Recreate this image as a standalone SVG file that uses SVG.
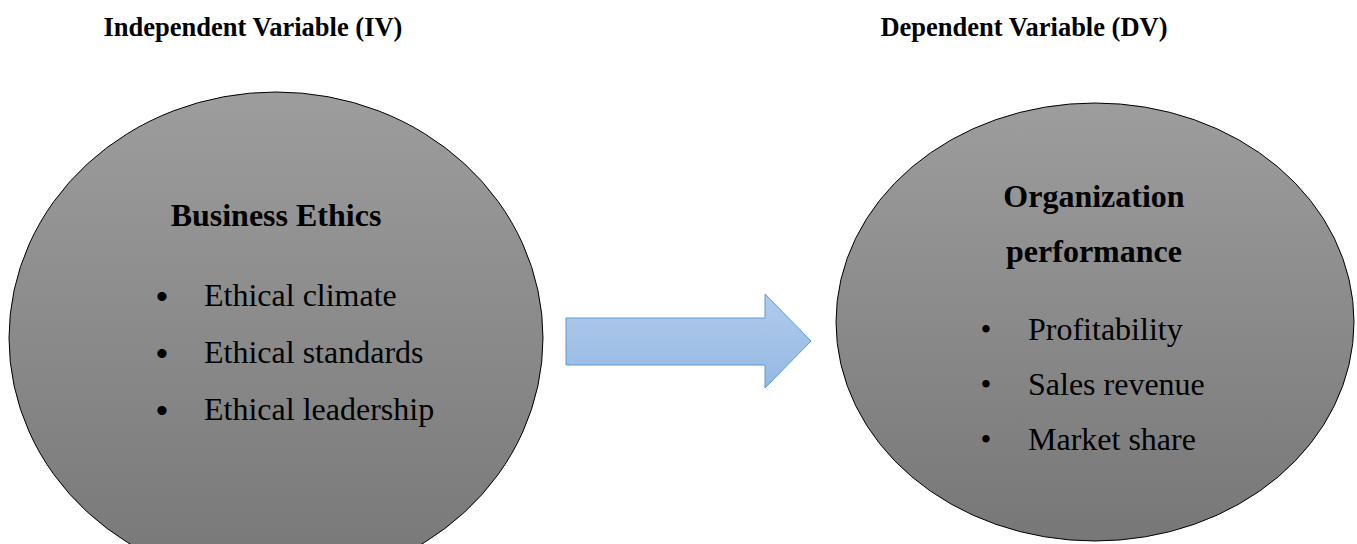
<svg xmlns="http://www.w3.org/2000/svg" width="1357" height="544" viewBox="0 0 1357 544">
  <defs>
    <linearGradient id="grayFill" x1="0" y1="0" x2="0" y2="1">
      <stop offset="0" stop-color="#9d9d9d"/>
      <stop offset="1" stop-color="#777777"/>
    </linearGradient>
    <linearGradient id="blueFill" x1="0" y1="0" x2="0" y2="1">
      <stop offset="0" stop-color="#b2cbeb"/>
      <stop offset="1" stop-color="#94b8e3"/>
    </linearGradient>
  </defs>
  <style>
    .oval { fill: url(#grayFill); stroke: #000; stroke-width: 1; }
    .hdr { font-family: "Liberation Serif", "Times New Roman", serif; font-weight: bold; font-size: 26.5px; fill: #000; }
    .title { font-family: "Liberation Serif", "Times New Roman", serif; font-weight: bold; font-size: 32px; fill: #000; text-anchor: middle; }
    .item { font-family: "Liberation Serif", "Times New Roman", serif; font-size: 32px; fill: #000; }
    .bulletL { font-family: "Liberation Sans", Arial, sans-serif; font-size: 34px; fill: #000; text-anchor: middle; }
    .bulletR { font-family: "Liberation Serif", "Times New Roman", serif; font-size: 31px; fill: #000; text-anchor: middle; }
    .arrow { fill: url(#blueFill); stroke: #5b9bd5; stroke-width: 1; }
  </style>
  <rect width="1357" height="544" fill="#ffffff"/>

  <g id="header-iv">
    <text class="hdr" x="253" y="36" text-anchor="middle">Independent Variable (IV)</text>
  </g>
  <g id="header-dv">
    <text class="hdr" x="1024" y="36" text-anchor="middle">Dependent Variable (DV)</text>
  </g>

  <g id="node-business-ethics">
    <ellipse class="oval" cx="276" cy="338" rx="267" ry="246"/>
    <text class="title" x="276" y="226">Business Ethics</text>
    <text class="bulletL" x="162" y="308">•</text>
    <text class="item" x="204" y="306">Ethical climate</text>
    <text class="bulletL" x="162" y="365">•</text>
    <text class="item" x="204" y="363">Ethical standards</text>
    <text class="bulletL" x="162" y="422">•</text>
    <text class="item" x="204" y="420">Ethical leadership</text>
  </g>

  <g id="node-organization-performance">
    <ellipse class="oval" cx="1095" cy="322" rx="259" ry="219"/>
    <text class="title" x="1094" y="207">Organization</text>
    <text class="title" x="1094" y="262">performance</text>
    <text class="bulletR" x="986" y="340">•</text>
    <text class="item" x="1028" y="340">Profitability</text>
    <text class="bulletR" x="986" y="395">•</text>
    <text class="item" x="1028" y="395">Sales revenue</text>
    <text class="bulletR" x="986" y="450">•</text>
    <text class="item" x="1028" y="450">Market share</text>
  </g>

  <g id="connectors">
    <path class="arrow" d="M566,318 L765,318 L765,294 L811,341 L765,388 L765,365 L566,365 Z"/>
  </g>
</svg>
